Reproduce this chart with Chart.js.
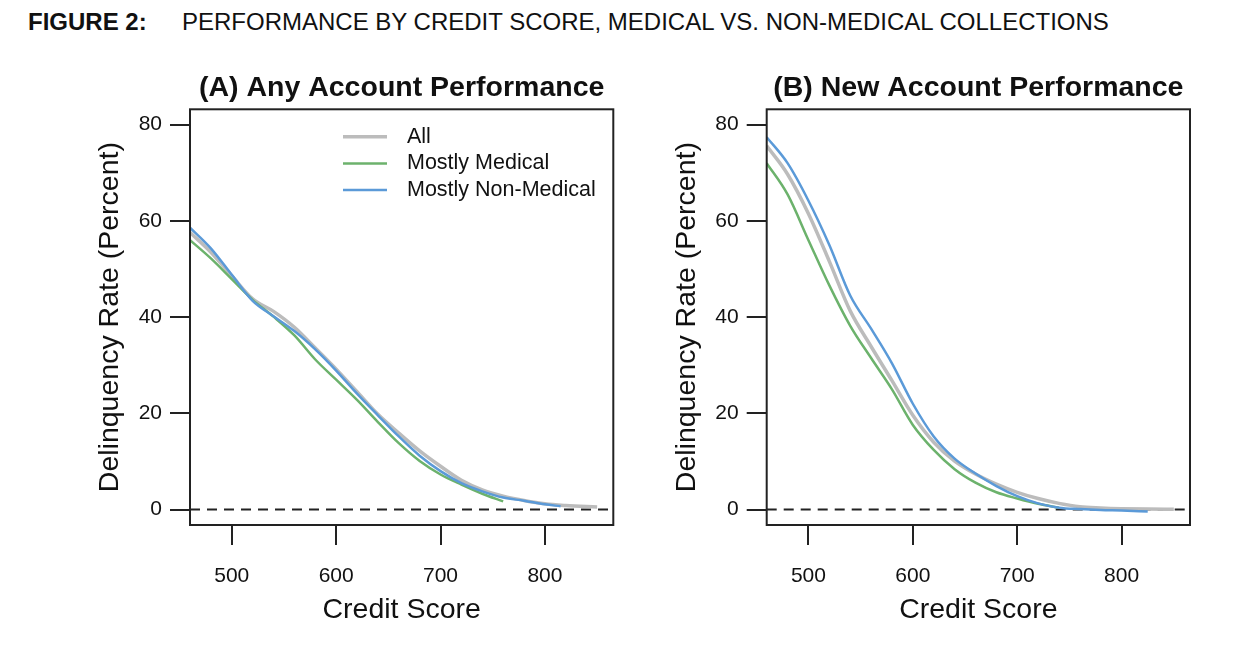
<!DOCTYPE html>
<html>
<head>
<meta charset="utf-8">
<script src="https://cdn.jsdelivr.net/npm/chart.js@4.4.1/dist/chart.umd.min.js"></script>
<style>
  body { margin:0; background:#fff; width:1256px; height:654px; position:relative; overflow:hidden; font-family:"Liberation Sans", Arial, sans-serif; }
  #head { position:absolute; left:28px; top:10px; font-size:24px; line-height:24px; color:#111; white-space:nowrap; }
  #head b { display:inline-block; width:154px; }
  canvas { position:absolute; top:60px; }
</style>
</head>
<body>
<div id="head"><b>FIGURE 2:</b>PERFORMANCE BY CREDIT SCORE, MEDICAL VS. NON-MEDICAL COLLECTIONS</div>
<canvas id="chartA" width="640" height="594" style="left:0"></canvas>
<canvas id="chartB" width="616" height="594" style="left:640px"></canvas>
<script>
// series (credit score -> delinquency rate, percent)
const seriesNames = ["All", "Mostly Medical", "Mostly Non-Medical"];

// (A) any account performance
const scoreAllA = [460,480,500,520,540,560,580,600,620,640,660,680,700,720,740,760,780,800,820,850];
const allA      = [57.6,53.5,48.6,43.8,41.2,37.9,33.6,29.2,24.5,19.8,15.9,12.2,9.0,6.1,4.1,2.8,1.9,1.2,0.85,0.55];
const scoreMedA = [460,480,500,520,540,560,580,600,620,640,660,680,700,720,740,760];
const medA      = [56.0,52.2,47.9,43.6,40.1,36.2,31.2,27.0,22.8,18.2,13.8,10.1,7.3,5.2,3.3,1.7];
const scoreNonA = [460,480,500,520,540,560,580,600,620,640,660,680,700,720,740,760,780,800,815];
const nonA      = [58.6,54.3,48.8,43.4,40.2,37.1,33.3,28.9,24.1,19.6,15.2,11.2,8.0,5.5,3.8,2.5,1.85,1.1,0.7];

// (B) new account performance
const scoreAllB = [460,480,500,520,540,560,580,600,620,640,660,680,700,720,740,760,780,800,825,850];
const allB      = [75.6,69.7,61.5,51.6,41.3,33.9,26.8,19.6,14.0,10.1,7.4,5.3,3.6,2.3,1.3,0.6,0.35,0.2,0.1,0.05];
const scoreMedB = [460,480,500,520,540,560,580,600,620,640,660,680,700,720,740];
const medB      = [72.0,65.5,56.0,46.6,38.2,31.5,25.0,17.6,12.4,8.4,5.6,3.6,2.3,1.2,0.4];
const scoreNonB = [460,480,500,520,540,560,580,600,620,640,660,680,700,720,740,760,780,800,825];
const nonB      = [77.4,72.0,64.2,55.0,44.5,37.6,30.4,22.0,15.2,10.6,7.5,4.9,2.8,1.3,0.4,0.1,-0.1,-0.2,-0.4];

const xTicks = [500, 600, 700, 800];
const yTicks = [0, 20, 40, 60, 80];
const zeroLine = [0, 0];

const colors = ["#bcbcbc", "#6cb26c", "#5b9ad8"];
const widths = [3.5, 2.5, 2.5];

Chart.defaults.font.family = '"Liberation Sans", Arial, sans-serif';
Chart.defaults.color = "#111";

// box round the plot region + legend inside it
const frame = {
  id: "frame",
  afterDatasetsDraw(chart, args, opts) {
    const ctx = chart.ctx, a = chart.chartArea;
    ctx.save();
    ctx.strokeStyle = "#222";
    ctx.lineWidth = 2;
    ctx.strokeRect(a.left, a.top, a.right - a.left, a.bottom - a.top);
    if (opts.legend) {
      ctx.font = '21.5px "Liberation Sans", Arial, sans-serif';
      ctx.textBaseline = "middle";
      chart.data.datasets.forEach(function (ds, i) {
        if (!ds.label) return;
        const y = a.top + 27.4 + i * 26.7;
        ctx.strokeStyle = ds.borderColor;
        ctx.lineWidth = ds.borderWidth;
        ctx.beginPath();
        ctx.moveTo(a.left + 153, y);
        ctx.lineTo(a.left + 197, y);
        ctx.stroke();
        ctx.fillStyle = "#111";
        ctx.fillText(ds.label, a.left + 217, y);
      });
    }
    ctx.restore();
  }
};

function panel(id, title, xs, ys, padLeft, padRight, legend) {
  const datasets = seriesNames.map(function (name, i) {
    return {
      label: name,
      data: xs[i].map(function (x, j) { return {x: x, y: ys[i][j]}; }),
      borderColor: colors[i],
      borderWidth: widths[i],
      order: 3 - i,
      pointRadius: 0,
      cubicInterpolationMode: "monotone",
      fill: false
    };
  });
  datasets.push({
    label: "",
    data: [{x: 460, y: zeroLine[0]}, {x: 865.5, y: zeroLine[1]}],
    borderColor: "#222",
    borderWidth: 2,
    borderDash: [10, 7],
    order: 9,
    pointRadius: 0
  });

  var ctx = document.getElementById(id).getContext("2d");
  return new Chart(ctx, {
    type: "line",
    data: {datasets: datasets},
    options: {
      responsive: false,
      animation: false,
      layout: {padding: {left: padLeft, right: padRight, top: 0, bottom: 26.9}},
      plugins: {
        legend: {display: false},
        tooltip: {enabled: false},
        title: {
          display: true,
          fullSize: false,
          text: title,
          font: {size: 28.5, weight: "bold"},
          color: "#111",
          padding: {top: 10.9, bottom: 4.2}
        },
        frame: {legend: legend}
      },
      scales: {
        x: {
          type: "linear",
          min: 460,
          max: 865.5,
          afterBuildTicks: function (s) { s.ticks = xTicks.map(function (v) { return {value: v}; }); },
          afterFit: function (s) { s.height = 102.1; },
          border: {display: false},
          grid: {drawOnChartArea: false, drawTicks: true, tickLength: 20, color: "#222", lineWidth: 2},
          ticks: {font: {size: 21}, padding: 18.5, maxRotation: 0, color: "#111"},
          title: {display: true, text: "Credit Score", font: {size: 28.5}, color: "#111", padding: 0}
        },
        y: {
          type: "linear",
          min: -3.2,
          max: 83.2,
          afterBuildTicks: function (s) { s.ticks = yTicks.map(function (v) { return {value: v}; }); },
          afterFit: function (s) { s.width = (id === "chartA" ? 190 : 126.7) - padLeft; },
          border: {display: false},
          grid: {drawOnChartArea: false, drawTicks: true, tickLength: 20, color: "#222", lineWidth: 2},
          ticks: {font: {size: 21}, padding: 8, color: "#111"},
          title: {display: true, text: "Delinquency Rate (Percent)", font: {size: 28.5}, color: "#111", padding: 0}
        }
      }
    },
    plugins: [frame]
  });
}

panel("chartA", "(A) Any Account Performance",
  [scoreAllA, scoreMedA, scoreNonA], [allA, medA, nonA], 92.9, 26.7, true);
panel("chartB", "(B) New Account Performance",
  [scoreAllB, scoreMedB, scoreNonB], [allB, medB, nonB], 29.9, 66, false);
</script>
</body>
</html>
